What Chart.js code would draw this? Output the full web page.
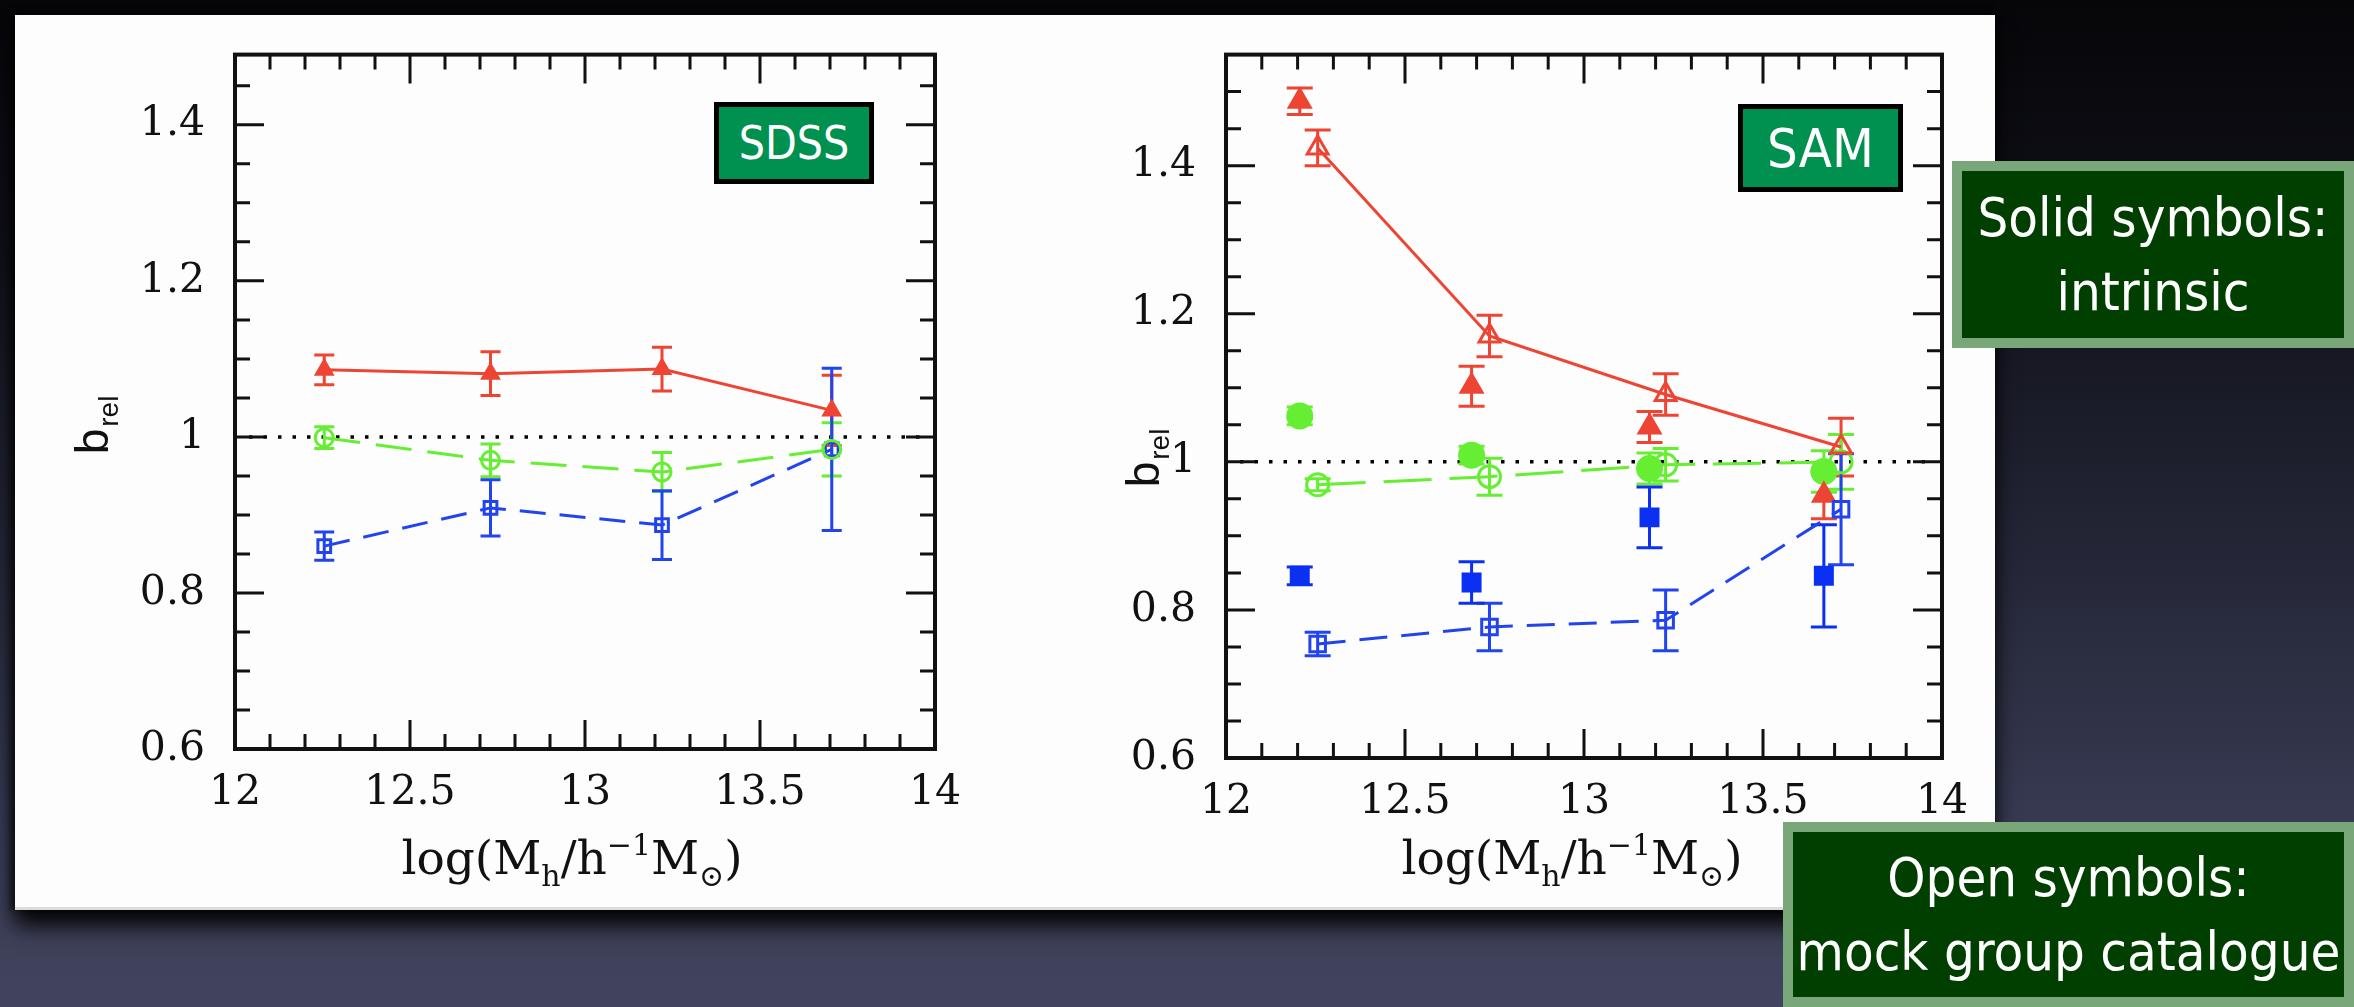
<!DOCTYPE html>
<html>
<head>
<meta charset="utf-8">
<script src="https://cdn.jsdelivr.net/npm/chart.js@4.4.1/dist/chart.umd.min.js"></script>
<style>
html,body{margin:0;padding:0;}
body{width:2354px;height:1007px;overflow:hidden;position:relative;
  background:linear-gradient(180deg,#060609 0%,#101119 25%,#242637 55%,#363950 80%,#41445c 100%);}
#paper{position:absolute;left:15px;top:15px;width:1980px;height:892px;background:#fdfdfd;
  box-shadow:0 16px 20px rgba(0,0,0,0.92), -4px 0 8px rgba(0,0,0,0.6);
  border-bottom:3px solid #dcdcdc;}
canvas{position:absolute;top:0;}
#cL{left:0;}
#cR{left:1000px;}
.tag{position:absolute;box-sizing:border-box;background:#009150;border:5px solid #000;color:#fff;
  font-family:'DejaVu Sans Condensed','DejaVu Sans',sans-serif;
  display:flex;align-items:center;justify-content:center;}
.note{position:absolute;box-sizing:border-box;background:#003f00;border:10px solid #79a779;color:#fff;
  font-family:'DejaVu Sans Condensed','DejaVu Sans',sans-serif;font-size:54px;text-align:center;
  display:flex;flex-direction:column;justify-content:center;line-height:74px;}
</style>
</head>
<body>
<div id="paper"></div>
<canvas id="cL" width="1000" height="1007"></canvas>
<canvas id="cR" width="1000" height="1007"></canvas>
<div class="tag" style="left:714px;top:102px;width:160px;height:82px;font-size:46px;">SDSS</div>
<div class="tag" style="left:1738px;top:104px;width:165px;height:88px;font-size:54px;">SAM</div>
<div class="note" style="left:1952px;top:161px;width:402px;height:187px;"><div>Solid symbols:</div><div>intrinsic</div></div>
<div class="note" style="left:1783px;top:822px;width:571px;height:185px;"><div>Open symbols:</div><div>mock group catalogue</div></div>
<script>
// ---------- axis ticks ----------
const xTickValues = [12, 12.5, 13, 13.5, 14];
const xTickLabels = ['12', '12.5', '13', '13.5', '14'];
const yTickValues = [0.6, 0.8, 1.0, 1.2, 1.4];
const yTickLabels = ['0.6', '0.8', '1', '1.2', '1.4'];
const refLineY = [1];

// ---------- SDSS panel ----------
const sdssX        = [12.255, 12.73, 13.22, 13.705];
const sdssRed      = [1.086, 1.081, 1.087, 1.034];
const sdssRedErr   = [0.019, 0.028, 0.028, 0.045];
const sdssGreen    = [0.999, 0.970, 0.955, 0.984];
const sdssGreenErr = [0.014, 0.021, 0.025, 0.034];
const sdssBlue     = [0.860, 0.909, 0.887, 0.984];
const sdssBlueErr  = [0.018, 0.036, 0.044, 0.104];

// ---------- SAM panel ----------
const samSolidX     = [12.206, 12.686, 13.183, 13.670];
const samOpenX      = [12.256, 12.736, 13.228, 13.718];
const samRedSolid   = [1.487, 1.102, 1.047, 0.955];
const samRedSolidErr= [0.018, 0.027, 0.021, 0.032];
const samRedOpen    = [1.424, 1.170, 1.091, 1.020];
const samRedOpenErr = [0.024, 0.028, 0.028, 0.039];
const samGreenSolid = [1.062, 1.009, 0.991, 0.987];
const samGreenSolidErr = [0.012, 0.012, 0.021, 0.028];
const samGreenOpen  = [0.969, 0.980, 0.996, 1.000];
const samGreenOpenErr = [0.008, 0.025, 0.022, 0.037];
const samBlueSolid  = [0.846, 0.837, 0.925, 0.846];
const samBlueSolidErr = [0.012, 0.028, 0.041, 0.069];
const samBlueOpen   = [0.754, 0.777, 0.786, 0.936];
const samBlueOpenErr = [0.016, 0.032, 0.041, 0.075];

const RED = '#ee4433', GREEN = '#66ee33', BLUE = '#2244ee', BLUE_S = '#0b30f2';

function series(xs, ys, errs, o) {
  return {
    data: xs.map((x, i) => ({x: x, y: ys[i]})),
    errors: errs,
    showLine: !!o.line,
    borderColor: o.color,
    borderWidth: 3,
    borderDash: o.dash || [],
    pointStyle: o.shape,
    pointRadius: o.r,
    pointHoverRadius: o.r,
    pointBorderWidth: o.pw || 3,
    pointBorderColor: o.color,
    pointBackgroundColor: o.fill ? o.color : 'rgba(0,0,0,0)',
    errCap: o.cap,
    errColor: o.color,
    fill: false,
    tension: 0,
    clip: false
  };
}

function drawXTitle(ctx, cx, base) {
  const big = '47px "DejaVu Serif"', small = '30px "DejaVu Serif"';
  const parts = [['log(M', big, 0], ['h', small, 12], ['/h', big, 0], ['\u22121', small, -19],
                 ['M', big, 0], ['\u2299', small, 12], [')', big, 0]];
  let total = 0;
  parts.forEach(p => { ctx.font = p[1]; total += ctx.measureText(p[0]).width; });
  let x = cx - total / 2;
  ctx.fillStyle = '#111';
  ctx.textBaseline = 'alphabetic';
  ctx.textAlign = 'left';
  parts.forEach(p => { ctx.font = p[1]; ctx.fillText(p[0], x, base + p[2]); x += ctx.measureText(p[0]).width; });
}

function drawYTitle(ctx, cx, cy) {
  ctx.save();
  ctx.translate(cx, cy);
  ctx.rotate(-Math.PI / 2);
  const big = '46px "Liberation Sans"', small = '28px "Liberation Sans"';
  ctx.font = big; const wb = ctx.measureText('b').width;
  ctx.font = small; const wr = ctx.measureText('rel').width;
  const x0 = -(wb + wr + 2) / 2;
  ctx.fillStyle = '#111';
  ctx.textBaseline = 'alphabetic';
  ctx.textAlign = 'left';
  ctx.font = big; ctx.fillText('b', x0, 16);
  ctx.font = small; ctx.fillText('rel', x0 + wb + 2, 26);
  ctx.restore();
}

const framePlugin = {
  id: 'frame',
  beforeDatasetsDraw(chart) {
    const {ctx, chartArea: a, scales: {x, y}} = chart;
    ctx.save();
    // dotted reference line
    ctx.strokeStyle = '#000'; ctx.lineWidth = 3.5; ctx.setLineDash([3.5, 11]);
    refLineY.forEach(v => {
      const py = y.getPixelForValue(v);
      ctx.beginPath(); ctx.moveTo(a.left + 14, py); ctx.lineTo(a.right - 14, py); ctx.stroke();
    });
    ctx.setLineDash([]);
    // error bars
    chart.data.datasets.forEach((ds, di) => {
      const meta = chart.getDatasetMeta(di);
      if (!ds.errors) return;
      ctx.strokeStyle = ds.errColor; ctx.lineWidth = 3;
      meta.data.forEach((pt, i) => {
        const v = ds.data[i].y, e = ds.errors[i];
        const px = pt.x;
        const y1 = y.getPixelForValue(v + e), y2 = y.getPixelForValue(v - e);
        const c = ds.errCap;
        ctx.beginPath();
        ctx.moveTo(px, y1); ctx.lineTo(px, y2);
        ctx.moveTo(px - c, y1); ctx.lineTo(px + c, y1);
        ctx.moveTo(px - c, y2); ctx.lineTo(px + c, y2);
        ctx.stroke();
      });
    });
    ctx.restore();
  },
  afterDraw(chart, args, opts) {
    const {ctx, chartArea: a, scales: {x, y}} = chart;
    ctx.save();
    ctx.strokeStyle = '#111';
    ctx.lineWidth = 3;
    const MAJ = 29, MIN = 15;
    ctx.beginPath();
    for (let i = 1; i < 20; i++) {
      const v = 12 + i * 0.1;
      const px = x.getPixelForValue(v);
      const L = (i % 5 === 0) ? MAJ : MIN;
      ctx.moveTo(px, a.bottom); ctx.lineTo(px, a.bottom - L);
      ctx.moveTo(px, a.top); ctx.lineTo(px, a.top + L);
    }
    for (let i = 1; 0.6 + i * 0.05 < y.max - 0.001; i++) {
      const v = 0.6 + i * 0.05;
      const py = y.getPixelForValue(v);
      const L = (i % 4 === 0) ? MAJ : MIN;
      ctx.moveTo(a.left, py); ctx.lineTo(a.left + L, py);
      ctx.moveTo(a.right, py); ctx.lineTo(a.right - L, py);
    }
    ctx.stroke();
    ctx.lineWidth = 4;
    ctx.strokeRect(a.left, a.top, a.right - a.left, a.bottom - a.top);
    ctx.restore();
    drawXTitle(ctx, opts.xTitleX, opts.xTitleBase);
    drawYTitle(ctx, opts.yTitleX, opts.yTitleY);
  }
};

function makeChart(id, datasets, cfg) {
  const tickFont = {family: 'DejaVu Serif', size: 41};
  return new Chart(document.getElementById(id), {
    type: 'scatter',
    data: {datasets: datasets},
    options: {
      responsive: false,
      animation: false,
      devicePixelRatio: 1,
      events: [],
      layout: {padding: {left: 0, top: cfg.top, right: cfg.right, bottom: cfg.bottom}},
      plugins: {
        legend: {display: false},
        tooltip: {enabled: false},
        frame: cfg.titles
      },
      scales: {
        x: {
          type: 'linear', min: 12, max: 14,
          grid: {display: false, drawTicks: false},
          border: {display: false},
          ticks: {font: tickFont, color: '#111', padding: 20, maxRotation: 0, autoSkip: false,
                  callback: (v) => { const k = xTickValues.findIndex(t => Math.abs(t - v) < 1e-6); return k < 0 ? '' : xTickLabels[k]; }},
          afterBuildTicks: (s) => { s.ticks = xTickValues.map(v => ({value: v})); },
          afterFit: (s) => { s.height = 100; }
        },
        y: {
          type: 'linear', min: 0.6, max: cfg.ymax,
          grid: {display: false, drawTicks: false},
          border: {display: false},
          ticks: {font: tickFont, color: '#111', padding: 30, autoSkip: false,
                  callback: (v) => { const k = yTickValues.findIndex(t => Math.abs(t - v) < 1e-6); return k < 0 ? '' : yTickLabels[k]; }},
          afterBuildTicks: (s) => { s.ticks = yTickValues.map(v => ({value: v})); },
          afterFit: (s) => { s.width = cfg.yWidth; }
        }
      }
    },
    plugins: [framePlugin]
  });
}

// SDSS chart (chart area 235..935 x 53..749)
makeChart('cL', [
  series(sdssX, sdssRed, sdssRedErr, {color: RED, line: true, shape: 'triangle', r: 9, fill: true, cap: 10}),
  series(sdssX, sdssGreen, sdssGreenErr, {color: GREEN, line: true, dash: [36, 16], shape: 'circle', r: 9, cap: 10}),
  series(sdssX, sdssBlue, sdssBlueErr, {color: BLUE, line: true, dash: [26, 14], shape: 'rect', r: 9, cap: 10})
], {top: 53, right: 65, bottom: 1007 - 749 - 100, yWidth: 235, ymax: 1.49,
    titles: {xTitleX: 572, xTitleBase: 874, yTitleX: 92, yTitleY: 425}});

// SAM chart (chart area 1226..1942 x 45..758)
makeChart('cR', [
  series(samOpenX, samRedOpen, samRedOpenErr, {color: RED, line: true, shape: 'triangle', r: 12, cap: 13}),
  series(samOpenX, samGreenOpen, samGreenOpenErr, {color: GREEN, line: true, dash: [48, 18], shape: 'circle', r: 11, cap: 13}),
  series(samOpenX, samBlueOpen, samBlueOpenErr, {color: BLUE, line: true, dash: [28, 14], shape: 'rect', r: 11, cap: 13}),
  series(samSolidX, samRedSolid, samRedSolidErr, {color: RED, line: false, shape: 'triangle', r: 12, fill: true, cap: 13}),
  series(samSolidX, samGreenSolid, samGreenSolidErr, {color: GREEN, line: false, shape: 'circle', r: 12, fill: true, cap: 13}),
  series(samSolidX, samBlueSolid, samBlueSolidErr, {color: BLUE_S, line: false, shape: 'rect', r: 12, fill: true, cap: 13})
], {top: 45, right: 58, bottom: 1007 - 758 - 100, yWidth: 226, ymax: 1.55,
    titles: {xTitleX: 572, xTitleBase: 874, yTitleX: 143, yTitleY: 458}});
</script>
</body>
</html>
